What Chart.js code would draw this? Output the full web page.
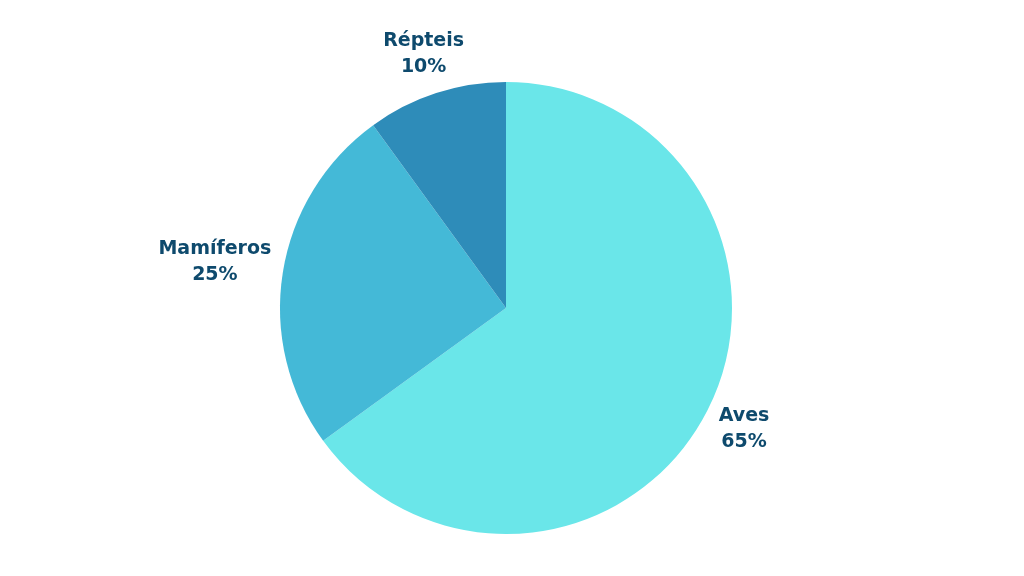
<!DOCTYPE html>
<html>
<head>
<meta charset="utf-8">
<script src="https://cdn.jsdelivr.net/npm/chart.js@4/dist/chart.umd.min.js"></script>
<style>
  html, body { margin: 0; padding: 0; background: #ffffff; }
  #wrap { width: 1024px; height: 576px; }
</style>
</head>
<body>
<div id="wrap"><canvas id="pie"></canvas></div>
<script>
// data
const categories = ["Aves", "Mamíferos", "Répteis"];
const shares = [65, 25, 10];
const sliceColors = ["#6ae6e9", "#44b9d7", "#2e8cb9"];

const labelColor = "#0e4a6d";
const labelFont = "bold 19px 'DejaVu Sans', sans-serif";

// outside labels: name on one line, percentage below
const outsideLabels = {
    id: "outsideLabels",
    afterDatasetsDraw(chart) {
        const ctx = chart.ctx;
        const meta = chart.getDatasetMeta(0);
        ctx.save();
        ctx.font = labelFont;
        ctx.fillStyle = labelColor;
        ctx.textAlign = "center";
        ctx.textBaseline = "middle";
        const lineH = 26;
        meta.data.forEach((arc, i) => {
            const mid = (arc.startAngle + arc.endAngle) / 2;
            const lines = [categories[i], shares[i] + "%"];
            const w = Math.max(...lines.map(t => ctx.measureText(t).width));
            const h = 38;
            const r = arc.outerRadius + 10 + (w / 2) * Math.abs(Math.cos(mid)) + (h / 2) * Math.abs(Math.sin(mid));
            const cx = arc.x + Math.cos(mid) * r;
            const cy = arc.y + Math.sin(mid) * r;
            ctx.fillText(lines[0], cx, cy - lineH / 2);
            ctx.fillText(lines[1], cx, cy + lineH / 2);
        });
        ctx.restore();
    }
};

new Chart(document.getElementById("pie"), {
    type: "pie",
    data: {
        labels: categories,
        datasets: [{
            data: shares,
            backgroundColor: sliceColors,
            borderWidth: 0
        }]
    },
    options: {
        responsive: true,
        maintainAspectRatio: false,
        animation: false,
        layout: { padding: { top: 82, bottom: 42, left: 280, right: 292 } },
        plugins: {
            legend: { display: false },
            tooltip: { enabled: false }
        }
    },
    plugins: [outsideLabels]
});
</script>
</body>
</html>
